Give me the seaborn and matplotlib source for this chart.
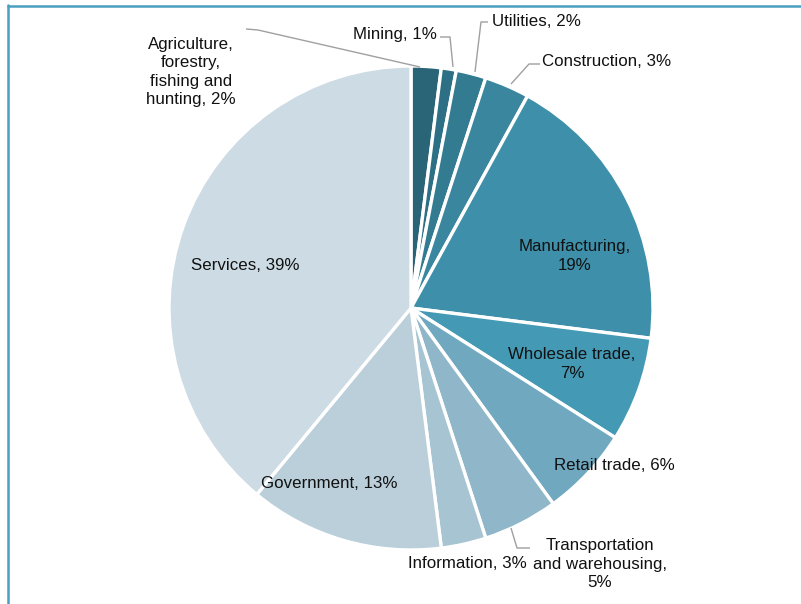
import matplotlib
matplotlib.use("Agg")
import matplotlib.pyplot as plt
from matplotlib.lines import Line2D
import seaborn as sns

# Share of output by industry, clockwise from 12 o'clock
industries = [
    "Agriculture, forestry, fishing and hunting",
    "Mining",
    "Utilities",
    "Construction",
    "Manufacturing",
    "Wholesale trade",
    "Retail trade",
    "Transportation and warehousing",
    "Information",
    "Government",
    "Services",
]
shares = [2, 1, 2, 3, 19, 7, 6, 5, 3, 13, 39]

label_texts = [
    "Agriculture,\nforestry,\nfishing and\nhunting, {}%",
    "Mining, {}%",
    "Utilities, {}%",
    "Construction, {}%",
    "Manufacturing,\n{}%",
    "Wholesale trade,\n{}%",
    "Retail trade, {}%",
    "Transportation\nand warehousing,\n{}%",
    "Information, {}%",
    "Government, {}%",
    "Services, {}%",
]

slice_colors = [
    "#2a6477", "#2d7085", "#327b91", "#3a869f", "#3e8faa", "#4499b5",
    "#6fa8bf", "#8fb7c9", "#a6c4d2", "#bacfda", "#cddbe4",
]

sns.set_theme(style="white")
plt.rcParams["font.family"] = ["Liberation Sans", "DejaVu Sans"]

W, H = 801, 604
CX, CY, R = 411, 308, 242

fig = plt.figure(figsize=(W / 100, H / 100), dpi=100)
fig.patch.set_facecolor("white")
ax = fig.add_axes([(CX - R) / W, (H - CY - R) / H, 2 * R / W, 2 * R / H])

palette = sns.color_palette(slice_colors)
ax.pie(
    shares,
    colors=palette,
    startangle=90,
    counterclock=False,
    radius=1.0,
    wedgeprops=dict(edgecolor="white", linewidth=2.4),
)
ax.set_xlim(-1, 1)
ax.set_ylim(-1, 1)
ax.set_aspect("equal")
ax.axis("off")


def to_data(px, py):
    return (px - CX) / R, (CY - py) / R


# label anchor points (pixel space of the figure)
label_pos = [
    (191, 72), (395, 35), (536, 22), (607, 62), (575, 256), (572, 364),
    (614, 465), (600, 564), (467, 564), (329, 484), (245, 265),
]

for text, value, (px, py) in zip(label_texts, shares, label_pos):
    x, y = to_data(px, py)
    ax.text(x, y, text.format(value), ha="center", va="center",
            fontsize=12.2, color="#111111", linespacing=1.3, clip_on=False)

# leader lines for the small outer slices
leaders = [
    [(246, 29), (258, 30), (420, 67)],
    [(440, 37), (450, 37), (453, 67)],
    [(488, 22), (481, 22), (475, 72)],
    [(540, 64), (529, 64), (511, 84)],
    [(511, 528), (517, 548), (530, 548)],
]
for pts in leaders:
    xs, ys = zip(*[to_data(px, py) for px, py in pts])
    ax.plot(xs, ys, color="#a0a0a0", linewidth=1.0, clip_on=False,
            solid_capstyle="butt")

# chart frame: top and left rules
frame_color = "#4a9fc0"
fig.add_artist(Line2D([8 / W, 1.0], [1 - 6 / H, 1 - 6 / H],
                      transform=fig.transFigure, color=frame_color, linewidth=1.8))
fig.add_artist(Line2D([7.5 / W, 7.5 / W], [0.0, 1 - 5 / H],
                      transform=fig.transFigure, color=frame_color, linewidth=1.8))

fig.savefig("out.png", dpi=100, facecolor="white")
